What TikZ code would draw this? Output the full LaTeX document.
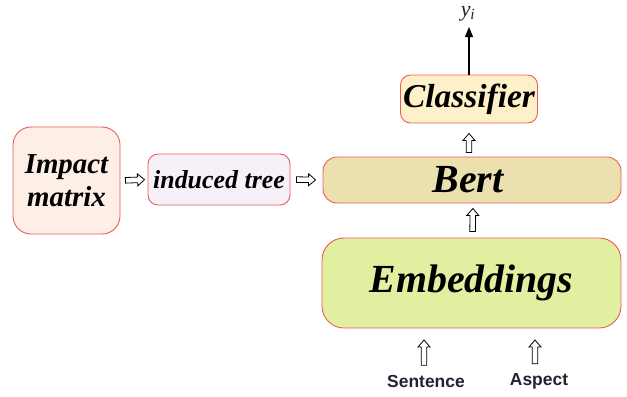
\documentclass[tikz,border=0pt]{standalone}
\usepackage{fontspec}
\setmainfont{Liberation Serif}
\newfontfamily\labelfont{Liberation Sans}
\usetikzlibrary{arrows.meta,calc}
\definecolor{edgered}{HTML}{EE5A5A}
\definecolor{impactfill}{HTML}{FDEFE6}
\definecolor{treefill}{HTML}{F6F0F8}
\definecolor{bertfill}{HTML}{ECE0AE}
\definecolor{clsfill}{HTML}{FEF0C8}
\definecolor{embfill}{HTML}{E0F0A0}
\definecolor{inktext}{HTML}{222233}
\tikzset{
  blockbox/.style={draw=edgered, line width=0.9bp, inner sep=0pt, align=center,
    font=\bfseries\itshape},
  % outlined block arrow; #1 = gap at the start, #2 = gap at the end
  blockarrow/.style 2 args={draw=black, fill=white, line width=0.8bp, line join=miter,
    to path={
      let \p1=($(\tikztostart)!#1!(\tikztotarget)$),
          \p2=($(\tikztotarget)!#2!(\tikztostart)$),
          \p3=($(\p2)!7bp!(\p1)$)
      in ($(\p1)!2.8bp!90:(\p2)$) -- ($(\p3)!2.8bp!90:(\p2)$)
         -- ($(\p3)!6bp!90:(\p2)$) -- (\p2) -- ($(\p3)!6bp!-90:(\p2)$)
         -- ($(\p3)!2.8bp!-90:(\p2)$) -- ($(\p1)!2.8bp!-90:(\p2)$) -- cycle
    }},
  inputlabel/.style={font=\labelfont\bfseries\fontsize{17.5}{19}\selectfont, text=inktext}
}
\begin{document}
\begin{tikzpicture}[x=1bp,y=-1bp]
\useasboundingbox (0,0) rectangle (627,396);

% main blocks
\node[blockbox, fill=impactfill, rounded corners=18bp, minimum width=107bp, minimum height=107bp,
  font=\bfseries\itshape\fontsize{29}{33}\selectfont] (impact) at (66.5,180.5) {Impact\\matrix};
\node[blockbox, fill=treefill, rounded corners=10bp, minimum width=142bp, minimum height=51bp,
  font=\bfseries\itshape\fontsize{26}{28}\selectfont] (tree) at (219,179.5) {induced tree};
\node[blockbox, fill=bertfill, rounded corners=14bp, minimum width=298bp, minimum height=46bp,
  font=\bfseries\itshape\fontsize{40}{42}\selectfont] (bert) at (472,180) {\kern-8bp Bert};
\node[blockbox, fill=clsfill, rounded corners=10bp, minimum width=137bp, minimum height=48bp,
  font=\bfseries\itshape\fontsize{33.5}{36}\selectfont] (cls) at (469,99) {Classifier};
\node[blockbox, fill=embfill, rounded corners=22bp, minimum width=299bp, minimum height=90bp,
  font=\bfseries\itshape\fontsize{40}{43}\selectfont] (emb) at (471.5,283) {Embeddings};

% output and inputs
\node[text=inktext, font=\itshape\fontsize{22}{24}\selectfont, anchor=base, inner sep=1bp]
  (out) at (468,16) {y\textsubscript{i}};
\node[inputlabel] (sent) at (426,381) {Sentence};
\node[inputlabel] (asp) at (539,381) {Aspect};

% connectors
\draw[blockarrow={5bp}{3bp}] (impact.east) to (tree.west);
\draw[blockarrow={6bp}{7bp}] (tree.east) to (bert.west);
\draw[blockarrow={4bp}{10bp}] (bert.north -| cls.south) to (cls.south);
\draw[blockarrow={6bp}{5bp}] ([xshift=1bp]emb.north) to ([xshift=1bp]bert.south);
\draw[blockarrow={6bp}{12bp}] (sent.north -| 424,0) to (424,328);
\draw[blockarrow={6bp}{12bp}] (asp.north -| 535,0) to (535,328);
\draw[line width=1.2bp, -{Triangle[width=8bp,length=10bp]}] (cls.north) -- (cls.north |- 0,27);
\end{tikzpicture}
\end{document}
